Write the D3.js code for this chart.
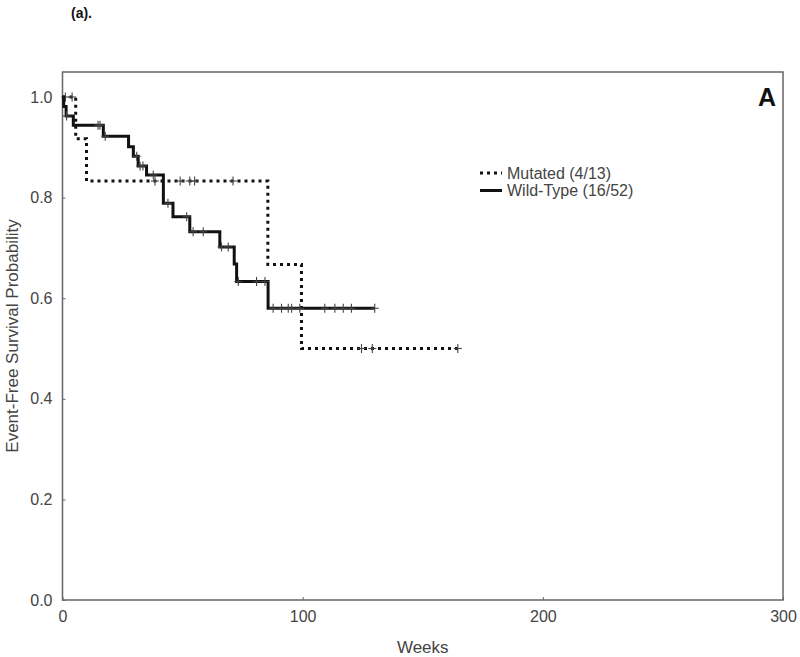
<!DOCTYPE html>
<html lang="en">
    <head>
        <meta charset="utf-8">
        <title>Event-Free Survival</title>
        <script src="https://d3js.org/d3.v7.min.js"></script>
        <style type="text/css">
            body {
                margin: 0;
                background: white;
            }
            text {
                font-family: "Liberation Sans", Arial, sans-serif;
                fill: #444;
            }
            .axis path,
            .axis line {
                stroke: #666;
            }
            .axis text {
                font-size: 16px;
                fill: #444;
            }
            .curve {
                fill: none;
                stroke: #111;
                stroke-width: 3px;
            }
            .censor {
                stroke: #444;
                stroke-width: 1.1px;
            }
        </style>
    </head>
    <body>
        <script type="text/javascript">

            // Mutated group: step times (weeks) and survival after each step
            const mutTimes = [0, 5.5, 10, 85.5, 99.5, 164.6];
            const mutSurv = [1.0, 0.917, 0.833, 0.667, 0.5, 0.5];
            const mutCensor = [1.2, 4, 38.5, 49, 53, 55, 71, 124.5, 129, 164.6];

            // Wild-type group
            const wtTimes = [0, 0.5, 1.5, 4.5, 17, 27.5, 29.5, 31.5, 35, 42, 46, 53, 65.5, 71.5, 72.5, 85.6, 130];
            const wtSurv = [1.0, 0.981, 0.962, 0.944, 0.922, 0.901, 0.882, 0.863, 0.845, 0.789, 0.762, 0.732, 0.702, 0.668, 0.633, 0.58, 0.58];
            const wtCensor = [1.7, 14.8, 15.6, 17.8, 30.9, 32.3, 33.5, 37.8, 43.9, 51.7, 54.4, 58.6,
                              66.2, 69, 73.2, 80.8, 84.3, 87.7, 91.2, 94, 95.4, 98.8, 109.2, 113.4,
                              116.9, 120.3, 130];

            const legendLabels = ["Mutated (4/13)", "Wild-Type (16/52)"];
            const xTicks = [0, 100, 200, 300];
            const yTicks = [0, 0.2, 0.4, 0.6, 0.8, 1.0];

            const w = 800;
            const h = 657;
            const mLeft = 62.5, mRight = 783, mTop = 72, mBottom = 600;

            const svg = d3.select("body")
                .append("svg")
                .attr("width", w)
                .attr("height", h);

            const xScale = d3.scaleLinear()
                .domain([0, 300])
                .range([mLeft, mRight]);

            const yScale = d3.scaleLinear()
                .domain([0, 1.0])
                .range([mBottom, 97]);

            // frame
            svg.append("rect")
                .attr("x", mLeft)
                .attr("y", mTop)
                .attr("width", mRight - mLeft)
                .attr("height", mBottom - mTop)
                .attr("fill", "none")
                .attr("stroke", "#666")
                .attr("stroke-width", 1.5);

            // axes with small inward ticks
            const bottomAxis = d3.axisBottom(xScale)
                .tickValues(xTicks)
                .tickSizeInner(-3)
                .tickSizeOuter(0)
                .tickPadding(11);

            svg.append("g")
                .attr("class", "axis")
                .attr("transform", "translate(0," + mBottom + ")")
                .call(bottomAxis)
                .call(g => g.select(".domain").remove());

            const leftAxis = d3.axisLeft(yScale)
                .tickValues(yTicks)
                .tickFormat(d3.format(".1f"))
                .tickSizeInner(-3)
                .tickSizeOuter(0)
                .tickPadding(10);

            svg.append("g")
                .attr("class", "axis")
                .attr("transform", "translate(" + mLeft + ",0)")
                .call(leftAxis)
                .call(g => g.select(".domain").remove());

            // axis titles
            svg.append("text")
                .attr("x", (mLeft + mRight) / 2)
                .attr("y", 653)
                .attr("text-anchor", "middle")
                .style("font-size", "17px")
                .text("Weeks");

            svg.append("text")
                .attr("transform", "translate(18," + (mTop + mBottom) / 2 + ") rotate(-90)")
                .attr("text-anchor", "middle")
                .style("font-size", "17px")
                .text("Event-Free Survival Probability");

            // panel label
            svg.append("text")
                .attr("x", 776)
                .attr("y", 106)
                .attr("text-anchor", "end")
                .style("font-size", "25px")
                .style("font-weight", "bold")
                .style("fill", "#111")
                .text("A");

            svg.append("text")
                .attr("x", 71)
                .attr("y", 18)
                .style("font-size", "14px")
                .style("font-weight", "bold")
                .style("fill", "#111")
                .text("(a).");

            function drawCurve(times, surv, censor, dash) {
                const pts = times.map((t, i) => [t, surv[i]]);
                const line = d3.line()
                    .x(d => xScale(d[0]))
                    .y(d => yScale(d[1]))
                    .curve(d3.curveStepAfter);

                svg.append("path")
                    .datum(pts)
                    .attr("class", "curve")
                    .attr("stroke-dasharray", dash)
                    .attr("d", line);

                const survAt = t => surv[Math.max(0, d3.bisectRight(times, t) - 1)];

                const marks = svg.append("g")
                    .selectAll("g")
                    .data(censor)
                    .join("g")
                    .attr("transform", d => "translate(" + xScale(d) + "," + yScale(survAt(d)) + ")");

                marks.append("line")
                    .attr("class", "censor")
                    .attr("x1", -4).attr("x2", 4)
                    .attr("y1", 0).attr("y2", 0);
                marks.append("line")
                    .attr("class", "censor")
                    .attr("x1", 0).attr("x2", 0)
                    .attr("y1", -4.5).attr("y2", 4.5);
            }

            drawCurve(mutTimes, mutSurv, mutCensor, "3,4");
            drawCurve(wtTimes, wtSurv, wtCensor, null);

            // legend
            const legend = svg.append("g");
            legendLabels.forEach((lab, i) => {
                const y = 173 + i * 17.5;
                legend.append("line")
                    .attr("x1", 480).attr("x2", 502)
                    .attr("y1", y).attr("y2", y)
                    .attr("stroke", "#111")
                    .attr("stroke-width", 3)
                    .attr("stroke-dasharray", i === 0 ? "3,4" : null);
                legend.append("text")
                    .attr("x", 507)
                    .attr("y", y + 5.5)
                    .style("font-size", "16px")
                    .text(lab);
            });

        </script>
    </body>
</html>
